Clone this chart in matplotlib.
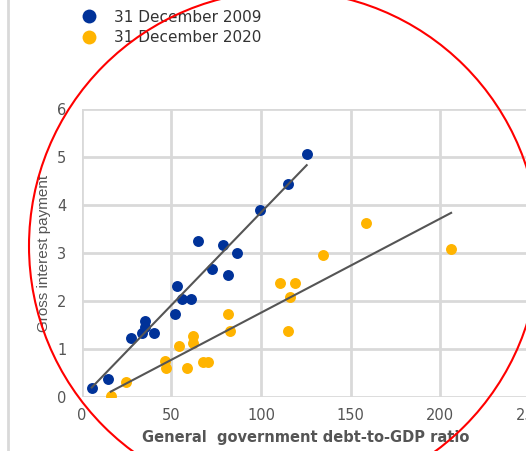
import numpy as np
import matplotlib
matplotlib.use("Agg")
import matplotlib.pyplot as plt
from matplotlib.patches import Circle
from matplotlib.lines import Line2D

# Debt-to-GDP ratio vs gross interest payment, 31 Dec 2009
debt_2009 = [5.7, 14.9, 27.4, 33.5, 35.4, 35.4, 40.4, 52.1, 53.4, 55.8,
             61.0, 65.1, 72.6, 78.7, 81.5, 86.5, 99.3, 115.3, 125.5]
interest_2009 = [0.18, 0.37, 1.22, 1.33, 1.46, 1.59, 1.34, 1.73, 2.31, 2.04,
                 2.04, 3.24, 2.66, 3.17, 2.54, 3.01, 3.90, 4.44, 5.06]

# 31 Dec 2020
debt_2020 = [16.3, 24.8, 46.5, 47.1, 54.5, 58.6, 61.9, 62.3, 67.9, 70.7,
             81.8, 82.8, 110.7, 115.3, 116.2, 119.0, 134.4, 158.6, 206.0]
interest_2020 = [0.02, 0.32, 0.74, 0.60, 1.07, 0.60, 1.12, 1.27, 0.72, 0.72,
                 1.72, 1.38, 2.38, 1.38, 2.08, 2.38, 2.96, 3.62, 3.08]

series_labels = ["31 December 2009", "31 December 2020"]
x_ticks = [0, 50, 100, 150, 200, 250]
y_ticks = [0, 1, 2, 3, 4, 5, 6]

blue = "#003299"
yellow = "#FFB400"
grid_c = "#d9d9d9"
text_c = "#555555"

fig = plt.figure(figsize=(5.26, 4.51), dpi=100)
ax = fig.add_axes([0.155, 0.1197, 0.8527, 0.6386])

ax.scatter(debt_2009, interest_2009, s=62, color=blue, zorder=3, linewidths=0)
ax.scatter(debt_2020, interest_2020, s=62, color=yellow, zorder=3, linewidths=0)

# linear fits over each data range
for xs, ys in [(debt_2009, interest_2009), (debt_2020, interest_2020)]:
    xs = np.array(xs)
    k, b = np.polyfit(xs, ys, 1)
    xr = np.array([xs.min(), xs.max()])
    ax.plot(xr, k * xr + b, color="#555555", lw=1.5, zorder=4)

ax.set_xlim(0, 250)
ax.set_ylim(0, 6)
ax.set_xticks(x_ticks)
ax.set_yticks(y_ticks)
ax.grid(True, color=grid_c, lw=2)
ax.set_axisbelow(True)
for s in ax.spines.values():
    s.set_visible(False)
ax.tick_params(length=0, labelsize=10.5, labelcolor=text_c)
ax.tick_params(axis="y", pad=11)
ax.tick_params(axis="x", pad=8)
ax.set_xlabel("General  government debt-to-GDP ratio", fontsize=10.5,
              fontweight="bold", color=text_c, labelpad=5)
ax.set_ylabel("Gross interest payment", fontsize=11, color=text_c,
              family="Liberation Sans", labelpad=4)

handles = [Line2D([], [], ls="", marker="o", ms=10, color=blue, mec="none"),
           Line2D([], [], ls="", marker="o", ms=10, color=yellow, mec="none")]
fig.legend(handles, series_labels, loc="upper left", bbox_to_anchor=(0.129, 0.992),
           frameon=False, fontsize=11, labelcolor="#333333", handletextpad=0.6,
           labelspacing=0.35, borderaxespad=0)

# panel border on the left
fig.add_artist(Line2D([8 / 526, 8 / 526], [0, 1], color=grid_c, lw=2,
                      transform=fig.transFigure))

# red highlight circle
fig.add_artist(Circle((2.84, 4.51 - 2.46), 2.55, transform=fig.dpi_scale_trans,
                      fill=False, ec="red", lw=1.5, zorder=10))

fig.savefig("out.png", dpi=100)
